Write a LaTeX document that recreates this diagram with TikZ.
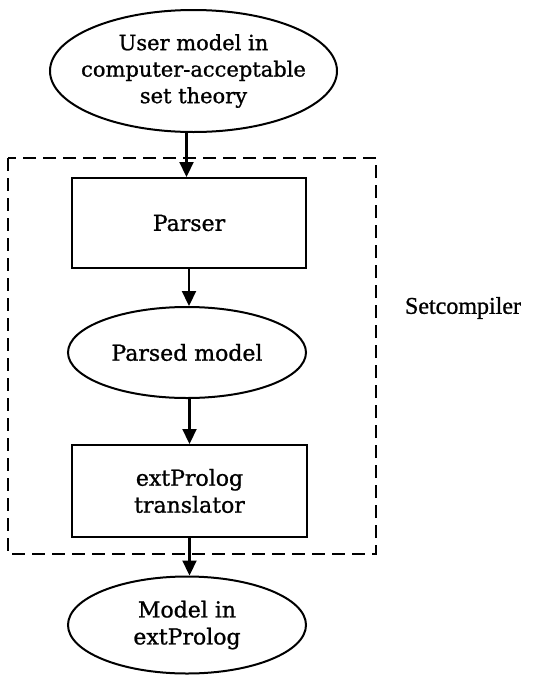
\documentclass[tikz,border=0pt]{standalone}
\usepackage{fontspec}
\setmainfont{DejaVu Serif}[FakeBold=1]
\newfontfamily\setcfont{Liberation Serif}[FakeBold=1]
\usetikzlibrary{shapes.geometric,arrows.meta}
\tikzset{
  base/.style={draw, line width=2pt, align=center, inner sep=0pt,
    font=\fontsize{22}{27}\selectfont},
  ell/.style={base, ellipse},
  boxnode/.style={base, rectangle},
  arr/.style={line width=2.2pt, -{Triangle[length=15pt,width=14pt]}},
  dashbox/.style={line width=2pt, dash pattern=on 13pt off 7pt}
}
\begin{document}
\begin{tikzpicture}[x=1pt,y=-1pt]
\useasboundingbox (0,0) rectangle (534,675);
\node[ell, minimum width=287pt, minimum height=122pt,
  label={[align=center, font=\fontsize{21}{26.5}\selectfont]center:{User model in\\computer-acceptable\\set theory}}] (u) at (193.5,71) {};
\node[boxnode, minimum width=234pt, minimum height=90pt] (p) at (189,223) {Parser};
\node[ell, minimum width=238pt, minimum height=91pt] (m) at (187,352.5) {Parsed model};
\node[boxnode, minimum width=235pt, minimum height=92pt] (t) at (189.5,491)
  {extProlog\\translator};
\node[ell, minimum width=238pt, minimum height=97pt] (o) at (187,625)
  {Model in\\extProlog};
\draw[dashbox] (8,158) rectangle (376,554);
\node[font=\setcfont\fontsize{24}{28}\selectfont] (s) at (463,308) {Setcompiler};
\draw[arr] ([xshift=-7pt]u.south) -- ([xshift=-7pt]u.south |- p.north);
\draw[arr] (p.south) -- (p.south |- m.north);
\draw[arr] (t.north |- m.south) -- (t.north);
\draw[arr] (t.south) -- (t.south |- o.north);
\end{tikzpicture}
\end{document}
